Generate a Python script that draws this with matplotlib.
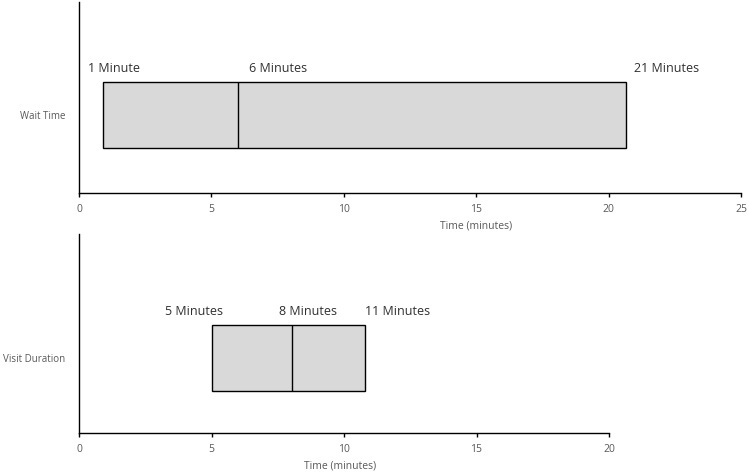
import matplotlib
matplotlib.use("Agg")
import matplotlib.pyplot as plt

plt.rcParams['font.family'] = ['Open Sans', 'DejaVu Sans']

# Data
categories = ["Wait Time", "Visit Duration"]
low = [0.9, 5.0]
median = [6.0, 8.05]
high = [20.65, 10.78]
point_labels = [["1 Minute", "6 Minutes", "21 Minutes"],
                ["5 Minutes", "8 Minutes", "11 Minutes"]]
xmax = [25, 20]
xlabel = "Time (minutes)"

W, H = 749, 476
fig = plt.figure(figsize=(W / 100, H / 100), dpi=100)

def fr(x0, y0, x1, y1):
    return [x0 / W, 1 - y1 / H, (x1 - x0) / W, (y1 - y0) / H]

axes_px = [(79, 2, 741, 192.7), (79, 234, 609, 433.3)]
box_center_px = [115, 358]
box_h_px = 65.2
label_offsets = [[-0.55, 0.42, 0.3], [-1.75, -0.5, 0.0]]
xlabel_px = [(476, 225.5), (340, 465.5)]

gray = "#595959"
for i in range(2):
    x0, y0, x1, y1 = axes_px[i]
    ax = fig.add_axes(fr(*axes_px[i]))
    ah = y1 - y0
    hi = (box_center_px[i] - y0) / box_h_px
    lo = hi - ah / box_h_px
    stats = [dict(whislo=low[i], q1=low[i], med=median[i], q3=high[i],
                  whishi=high[i], fliers=[])]
    ax.bxp(stats, positions=[0], widths=1.0, orientation='horizontal',
           showcaps=False, showfliers=False, patch_artist=True,
           boxprops=dict(facecolor="#d9d9d9", edgecolor="black", linewidth=1.0),
           medianprops=dict(color="black", linewidth=1.0),
           whiskerprops=dict(linewidth=0))
    ax.set_ylim(lo, hi)
    ax.set_xlim(0, xmax[i])
    ax.set_xticks(range(0, xmax[i] + 1, 5))
    ax.set_yticks([0])
    ax.set_yticklabels([categories[i]])
    ax.tick_params(axis='y', length=0, pad=10, labelsize=7, labelcolor=gray)
    ax.tick_params(axis='x', length=3, width=1, direction='out', pad=5,
                   labelsize=7.5, labelcolor=gray)
    for s in ["top", "right"]:
        ax.spines[s].set_visible(False)
    for s in ["left", "bottom"]:
        ax.spines[s].set_linewidth(1.0)
    vals = [low[i], median[i], high[i]]
    for v, t, off in zip(vals, point_labels[i], label_offsets[i]):
        ax.text(v + off, 0.5 + 0.22, t, ha='left', va='center',
                fontsize=9, color="#303030")
    fig.text(xlabel_px[i][0] / W, 1 - xlabel_px[i][1] / H, xlabel,
             ha='center', va='center', fontsize=7.5, color=gray)

fig.savefig("out.png", dpi=100)
